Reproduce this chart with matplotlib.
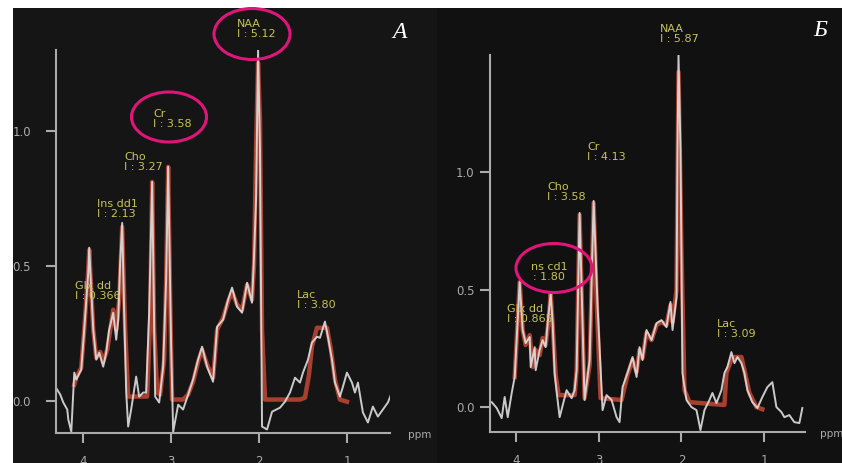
import matplotlib
matplotlib.use('Agg')
import matplotlib.pyplot as plt
from matplotlib.patches import Ellipse

# ---- panel A (left) : spectrum and fit, ppm / intensity ----
a_ppm = [4.318, 4.261, 4.227, 4.182, 4.170, 4.136, 4.102, 4.080, 4.023, 3.989,
         3.943, 3.932, 3.909, 3.886, 3.852, 3.818, 3.773, 3.739, 3.705, 3.659,
         3.625, 3.602, 3.580, 3.557, 3.534, 3.511, 3.489, 3.455, 3.398, 3.364,
         3.318, 3.284, 3.250, 3.216, 3.182, 3.136, 3.091, 3.057, 3.034, 3.000,
         2.977, 2.920, 2.864, 2.807, 2.750, 2.693, 2.648, 2.591, 2.523, 2.477,
         2.409, 2.352, 2.307, 2.250, 2.193, 2.136, 2.080, 2.057, 2.034, 2.011,
         1.989, 1.966, 1.909, 1.852, 1.761, 1.705, 1.648, 1.591, 1.534, 1.500,
         1.443, 1.398, 1.341, 1.307, 1.250, 1.216, 1.170, 1.136, 1.080, 1.045,
         1.000, 0.943, 0.909, 0.875, 0.818, 0.761, 0.705, 0.648, 0.591, 0.534,
         0.489]
a_int = [0.052, 0.022, -0.007, -0.033, -0.070, -0.115, 0.104, 0.078, 0.115, 0.263,
         0.474, 0.567, 0.411, 0.263, 0.152, 0.178, 0.126, 0.178, 0.263, 0.326,
         0.226, 0.300, 0.511, 0.659, 0.326, 0.030, -0.096, -0.033, 0.089, 0.015,
         0.030, 0.030, 0.326, 0.811, 0.015, -0.007, 0.126, 0.448, 0.867, 0.200,
         -0.115, -0.015, -0.033, 0.022, 0.078, 0.152, 0.200, 0.126, 0.070, 0.274,
         0.300, 0.374, 0.419, 0.348, 0.326, 0.437, 0.363, 0.533, 0.744, 1.300,
         0.930, -0.096, -0.107, -0.041, -0.026, -0.004, 0.030, 0.085, 0.067, 0.104,
         0.152, 0.215, 0.237, 0.233, 0.293, 0.237, 0.152, 0.067, 0.015, 0.052,
         0.104, 0.067, 0.030, 0.067, -0.044, -0.081, -0.022, -0.059, -0.033, -0.007,
         0.030]
a_fit_ppm = [4.102, 4.080, 4.023, 3.989, 3.943, 3.932, 3.909, 3.886, 3.852, 3.807,
             3.773, 3.727, 3.693, 3.659, 3.625, 3.591, 3.557, 3.523, 3.489, 3.273,
             3.239, 3.216, 3.193, 3.159, 3.125, 3.080, 3.057, 3.034, 3.011, 2.989,
             2.864, 2.807, 2.750, 2.693, 2.648, 2.591, 2.523, 2.477, 2.409, 2.352,
             2.307, 2.250, 2.193, 2.136, 2.080, 2.057, 2.034, 2.011, 1.989, 1.966,
             1.932, 1.534, 1.477, 1.432, 1.398, 1.341, 1.227, 1.182, 1.136, 1.080,
             1.000]
a_fit_int = [0.059, 0.085, 0.122, 0.263, 0.485, 0.559, 0.411, 0.263, 0.159, 0.181,
             0.144, 0.189, 0.263, 0.337, 0.263, 0.374, 0.644, 0.263, 0.015, 0.015,
             0.300, 0.811, 0.263, 0.030, 0.022, 0.152, 0.448, 0.867, 0.374, 0.004,
             0.004, 0.022, 0.070, 0.144, 0.189, 0.133, 0.085, 0.263, 0.307, 0.367,
             0.404, 0.356, 0.337, 0.430, 0.374, 0.504, 0.930, 1.252, 1.041, 0.263,
             0.004, 0.004, 0.011, 0.096, 0.200, 0.270, 0.270, 0.189, 0.078, 0.004,
             -0.004]

# ---- panel Б (right) ----
b_ppm = [4.289, 4.229, 4.169, 4.133, 4.096, 4.048, 4.012, 3.952, 3.916, 3.880,
         3.831, 3.819, 3.771, 3.759, 3.711, 3.675, 3.639, 3.614, 3.578, 3.554,
         3.530, 3.506, 3.470, 3.386, 3.325, 3.289, 3.265, 3.229, 3.169, 3.108,
         3.060, 3.012, 2.952, 2.904, 2.843, 2.783, 2.747, 2.711, 2.651, 2.590,
         2.542, 2.506, 2.470, 2.422, 2.361, 2.301, 2.241, 2.181, 2.133, 2.108,
         2.060, 2.048, 2.036, 2.012, 1.988, 1.940, 1.880, 1.819, 1.771, 1.723,
         1.663, 1.627, 1.578, 1.518, 1.482, 1.446, 1.398, 1.361, 1.325, 1.277,
         1.241, 1.205, 1.145, 1.084, 1.024, 0.964, 0.904, 0.855, 0.795, 0.759,
         0.699, 0.639, 0.578, 0.542]
b_int = [0.021, -0.004, -0.047, 0.043, -0.043, 0.060, 0.128, 0.532, 0.328, 0.272,
         0.298, 0.170, 0.255, 0.157, 0.243, 0.285, 0.255, 0.357, 0.485, 0.357,
         0.145, 0.064, -0.043, 0.072, 0.038, 0.072, 0.157, 0.826, 0.030, 0.200,
         0.877, 0.426, -0.013, 0.051, 0.030, -0.043, -0.064, 0.085, 0.145, 0.213,
         0.128, 0.255, 0.200, 0.328, 0.285, 0.357, 0.370, 0.340, 0.447, 0.328,
         0.468, 1.094, 1.498, 1.094, 0.145, 0.030, 0.000, -0.013, -0.098, -0.013,
         0.030, 0.060, 0.017, 0.072, 0.145, 0.170, 0.234, 0.187, 0.213, 0.187,
         0.145, 0.072, 0.021, -0.004, 0.043, 0.085, 0.106, 0.000, -0.021, -0.043,
         -0.034, -0.064, -0.068, -0.004]
b_fit_ppm = [4.012, 3.952, 3.916, 3.880, 3.831, 3.795, 3.759, 3.711, 3.675, 3.639,
             3.602, 3.578, 3.554, 3.518, 3.482, 3.289, 3.265, 3.229, 3.193, 3.169,
             3.108, 3.060, 3.024, 2.976, 2.723, 2.651, 2.590, 2.542, 2.506, 2.470,
             2.422, 2.361, 2.301, 2.241, 2.181, 2.133, 2.108, 2.060, 2.036, 2.000,
             1.964, 1.904, 1.482, 1.458, 1.386, 1.277, 1.241, 1.181, 1.096, 1.024]
b_fit_int = [0.128, 0.532, 0.328, 0.264, 0.306, 0.170, 0.243, 0.221, 0.294, 0.264,
             0.370, 0.485, 0.349, 0.136, 0.051, 0.051, 0.157, 0.817, 0.328, 0.038,
             0.179, 0.868, 0.455, 0.038, 0.030, 0.136, 0.200, 0.149, 0.243, 0.209,
             0.315, 0.285, 0.349, 0.362, 0.349, 0.434, 0.362, 0.498, 1.426, 0.668,
             0.072, 0.021, 0.009, 0.145, 0.213, 0.213, 0.157, 0.060, 0.000, -0.009]

a_labels = ["NAA\nI : 5.12", "Cr\nI : 3.58", "Cho\nI : 3.27", "Ins dd1\nI : 2.13",
            "Glx dd\nI : 0.366", "Lac\nI : 3.80"]
b_labels = ["NAA\nI : 5.87", "Cr\nI : 4.13", "Cho\nI : 3.58", "ns cd1\n: 1.80",
            "Glx dd\nI : 0.865", "Lac\nI : 3.09"]
x_ticks = [4, 3, 2, 1]
y_ticks = [0.0, 0.5, 1.0]
y_ticklabels = ['0.0', '0.5', '1.0']

W, H = 842, 463
GRAY = '#ababab'
RED = '#a8402f'
RAW = '#dedede'
YEL = '#c8c25a'
MAG = '#e0157a'

fig = plt.figure(figsize=(W / 100, H / 100), dpi=100)
fig.patch.set_facecolor('white')


def px_axes(x0, y0, x1, y1, **kw):
    # rectangle given in pixels from top-left
    return fig.add_axes([x0 / W, (H - y1) / H, (x1 - x0) / W, (y1 - y0) / H], **kw)


# panel backgrounds
for (x0, x1, col) in [(13, 437, '#151515'), (437, 842, '#111111')]:
    bg = px_axes(x0, 8, x1, H, zorder=0)
    bg.set_facecolor(col)
    bg.set_xlim(x0, x1)
    bg.set_ylim(H, 8)
    bg.set_xticks([])
    bg.set_yticks([])
    for s in bg.spines.values():
        s.set_visible(False)
    if x0 == 13:
        bg.text(408, 435, 'ppm', color=GRAY, fontsize=7.5, va='center', ha='left')
    else:
        bg.text(820, 434, 'ppm', color=GRAY, fontsize=7.5, va='center', ha='left')


def spectrum(rect, ylim, ppm, inten, fppm, fint, pad):
    ax = px_axes(*rect, zorder=1)
    ax.set_facecolor('none')
    ax.plot(fppm, fint, color=RED, lw=3.2)
    ax.plot(ppm, inten, color=RAW, lw=1.4, alpha=0.9)
    ax.set_xlim(4.31, 0.51)
    ax.set_ylim(*ylim)
    for s in ['top', 'right']:
        ax.spines[s].set_visible(False)
    for s in ['left', 'bottom']:
        ax.spines[s].set_color(GRAY)
        ax.spines[s].set_linewidth(1.5)
    ax.set_xticks(x_ticks)
    ax.set_xticklabels([str(t) for t in x_ticks])
    ax.set_yticks(y_ticks)
    ax.set_yticklabels(y_ticklabels)
    ax.tick_params(axis='both', colors=GRAY, length=7, width=1.5, labelsize=8.5)
    ax.tick_params(axis='x', pad=9)
    ax.tick_params(axis='y', pad=pad)
    return ax


spectrum((56, 50, 390, 433), (-0.12, 1.30), a_ppm, a_int, a_fit_ppm, a_fit_int, 11)
spectrum((490, 55, 805, 432), (-0.106, 1.498), b_ppm, b_int, b_fit_ppm, b_fit_int, 4)

# overlay for annotations
ov = fig.add_axes([0, 0, 1, 1], zorder=2)
ov.set_facecolor('none')
ov.set_xlim(0, W)
ov.set_ylim(H, 0)
ov.axis('off')

a_pos = [(237, 19), (153, 109), (124, 152), (97, 199), (75, 281), (297, 290)]
b_pos = [(660, 24), (587, 142), (547, 182), (531, 262), (507, 304), (717, 319)]
for lab, (x, y) in zip(a_labels + b_labels, a_pos + b_pos):
    ov.text(x, y, lab, color=YEL, fontsize=8, ha='left', va='top', linespacing=1.0,
            multialignment='center' if lab.startswith('ns') else 'left')

for (cx, cy, w, h) in [(252, 34, 76, 51), (169, 117, 75, 50), (554, 268, 76, 49)]:
    ov.add_patch(Ellipse((cx, cy), w, h, fill=False, edgecolor=MAG, lw=2.2))

ov.text(399, 32, 'A', color='white', fontsize=17, style='italic',
        family='Liberation Serif', ha='center', va='center')
ov.text(820, 31, 'Б', color='white', fontsize=17, style='italic',
        family='Liberation Serif', ha='center', va='center')

fig.savefig('out.png', dpi=100)
